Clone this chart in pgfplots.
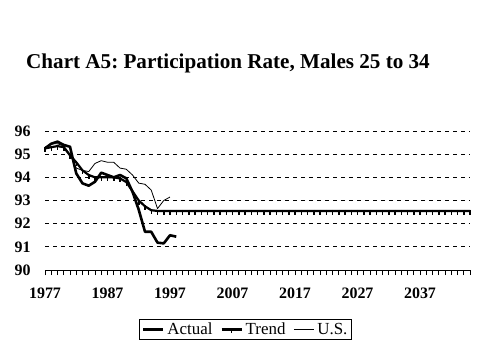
\documentclass[border=0pt]{standalone}
\usepackage{fontspec}
\setmainfont{Liberation Serif}
\usepackage{pgfplots}
\pgfplotsset{compat=1.18}
\begin{document}
\frenchspacing
\begin{tikzpicture}[x=1bp,y=1bp]
\useasboundingbox (0,0) rectangle (479,359);
\node[anchor=base west,inner sep=0pt,font=\fontsize{21.2}{23}\selectfont\bfseries] at (26,291) {Chart A5: Participation Rate, Males 25 to 34};
\begin{axis}[
  at={(45bp,89bp)}, anchor=south west,
  scale only axis, width=425bp, height=139bp,
  xmin=1977, xmax=2045, ymin=90, ymax=96,
  axis x line*=bottom, axis y line*=left,
  y axis line style={draw=none},
  x axis line style={black, line width=0.8bp, -},
  ytick={90,91,...,96},
  ytick style={draw=none},
  xtick={1977,1987,...,2037},
  minor xtick={1977,1978,...,2045},
  tick align=outside,
  major tick length=5bp, minor tick length=5bp,
  xtick style={black, line width=0.8bp},
  minor tick style={black, line width=0.8bp},
  ymajorgrids,
  grid style={black, line width=0.8bp, dash pattern=on 4bp off 4bp},
  /pgf/number format/assume math mode=true,
  /pgf/number format/set thousands separator={},
  ticklabel style={font=\fontsize{16}{18}\selectfont\bfseries},
  yticklabel style={xshift=-6bp},
  xticklabel style={yshift=-9bp},
  legend columns=3,
  legend style={at={(0.472,-0.428)}, anchor=center, draw=black, line width=0.8bp,
    font=\fontsize{17}{18}\selectfont, inner xsep=2bp, inner ysep=1.5bp,
    /tikz/every odd column/.append style={column sep=1bp},
    /tikz/every even column/.append style={column sep=6bp}},
  legend image code/.code={\draw[mark repeat=2,mark phase=2,#1] plot coordinates {(0bp,0bp) (10bp,0bp) (20bp,0bp)};},
  clip=false,
]
\addplot[black, line width=2.6bp, line join=round] coordinates {
(1977,95.25) (1978,95.45) (1979,95.54) (1980,95.4) (1981,95.32)
(1982,94.17) (1983,93.74) (1984,93.64) (1985,93.81) (1986,94.2)
(1987,94.1) (1988,94.0) (1989,94.1) (1990,93.96) (1991,93.38)
(1992,92.6) (1993,91.65) (1994,91.65) (1995,91.18) (1996,91.15)
(1997,91.5) (1998,91.44)
};
\addlegendentry{Actual}
\addplot[black, line width=2.2bp, line join=round, mark=|, mark size=2.5bp, mark options={line width=1.5bp, yshift=-1.5bp}] coordinates {
(1977,95.25) (1978,95.3) (1979,95.35) (1980,95.3) (1981,94.95)
(1982,94.65) (1983,94.3) (1984,94.1) (1985,94.0) (1986,94.0)
(1987,94.0) (1988,94.0) (1989,93.95) (1990,93.8) (1991,93.4)
(1992,93.0) (1993,92.75) (1994,92.58) (1995,92.55) (1996,92.55)
(1997,92.55) (1998,92.55) (1999,92.55) (2000,92.55) (2001,92.55)
(2002,92.55) (2003,92.55) (2004,92.55) (2005,92.55) (2006,92.55)
(2007,92.55) (2008,92.55) (2009,92.55) (2010,92.55) (2011,92.55)
(2012,92.55) (2013,92.55) (2014,92.55) (2015,92.55) (2016,92.55)
(2017,92.55) (2018,92.55) (2019,92.55) (2020,92.55) (2021,92.55)
(2022,92.55) (2023,92.55) (2024,92.55) (2025,92.55) (2026,92.55)
(2027,92.55) (2028,92.55) (2029,92.55) (2030,92.55) (2031,92.55)
(2032,92.55) (2033,92.55) (2034,92.55) (2035,92.55) (2036,92.55)
(2037,92.55) (2038,92.55) (2039,92.55) (2040,92.55) (2041,92.55)
(2042,92.55) (2043,92.55) (2044,92.55) (2045,92.55)
};
\addlegendentry{Trend}
\addplot[black, line width=0.8bp, line join=round] coordinates {
(1977,95.3) (1978,95.45) (1979,95.45) (1980,95.35) (1981,95.0)
(1982,94.4) (1983,94.3) (1984,94.25) (1985,94.6) (1986,94.72)
(1987,94.65) (1988,94.65) (1989,94.4) (1990,94.35) (1991,94.1)
(1992,93.75) (1993,93.7) (1994,93.45) (1995,92.65) (1996,93.0)
(1997,93.15)
};
\addlegendentry{U.S.}
\end{axis}
\end{tikzpicture}
\end{document}
